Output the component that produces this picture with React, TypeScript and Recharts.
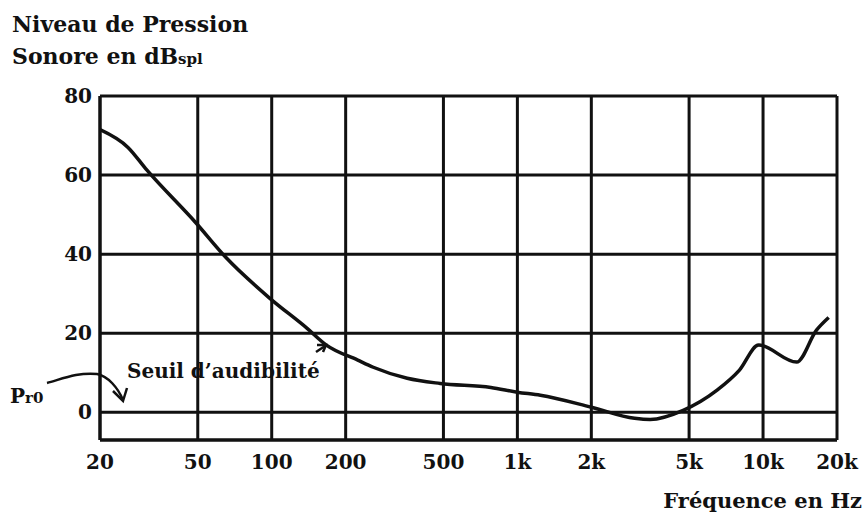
import { CartesianGrid, Line, LineChart, XAxis, YAxis } from 'recharts';

// Frequency (Hz) and hearing threshold (dB SPL)
const FREQS = [20, 26, 31, 49, 65, 98, 139, 167, 224, 259, 356, 485, 780, 1000, 1240, 2000, 3000, 3470, 4730, 6500, 8000, 9600, 13700, 16500, 18500];
const THRESHOLD_DB = [71.5, 67, 61.3, 48, 39.2, 28.9, 21.3, 17, 13.2, 11.4, 8.6, 7.3, 6.3, 5.1, 4.3, 1.3, -1.5, -1.8, 0.5, 5.6, 10.6, 17, 12.7, 20.8, 24];

const X_TICKS = [20, 50, 100, 200, 500, 1000, 2000, 5000, 10000, 20000];
const X_TICK_LABELS = ['20', '50', '100', '200', '500', '1k', '2k', '5k', '10k', '20k'];
const Y_TICKS = [0, 20, 40, 60, 80];

const FONT = '"DejaVu Serif", serif';
const INK = '#111';

const data = FREQS.map((freq, i) => ({ freq, db: THRESHOLD_DB[i] }));

export default function App() {
  const tickStyle = { fill: INK, fontSize: 20, fontWeight: 700, fontFamily: FONT };

  return (
    <div style={{ position: 'absolute', left: 0, top: 0, width: 867, height: 513, background: '#fff' }}>
      <LineChart width={867} height={513} data={data} margin={{ top: 96, right: 30, bottom: 43, left: 0 }}>
        <CartesianGrid stroke={INK} strokeWidth={3} />
        <XAxis
          dataKey="freq"
          type="number"
          scale="log"
          domain={[20, 20000]}
          ticks={X_TICKS}
          tickFormatter={(v) => X_TICK_LABELS[X_TICKS.indexOf(v)] ?? String(v)}
          axisLine={{ stroke: INK, strokeWidth: 3 }}
          tickLine={false}
          tickMargin={9}
          height={30}
          tick={tickStyle}
          interval={0}
          allowDataOverflow
        />
        <YAxis
          type="number"
          domain={[-7, 80]}
          ticks={Y_TICKS}
          width={100}
          axisLine={{ stroke: INK, strokeWidth: 3 }}
          tickLine={false}
          tick={tickStyle}
          allowDataOverflow
        />
        <Line
          dataKey="db"
          type="monotone"
          stroke={INK}
          strokeWidth={3.5}
          dot={false}
          activeDot={false}
          isAnimationActive={false}
        />
      </LineChart>

      <svg
        width={867}
        height={513}
        style={{ position: 'absolute', left: 0, top: 0, pointerEvents: 'none' }}
        fontFamily={FONT}
        fontWeight={700}
        fill={INK}
      >
        <text x={12} y={32} fontSize={22}>Niveau de Pression</text>
        <text x={12} y={64} fontSize={22}>
          Sonore en dB<tspan fontSize={15}>spl</tspan>
        </text>
        <text x={127} y={378} fontSize={20}>Seuil d’audibilité</text>
        <text x={10} y={403} fontSize={20}>
          P<tspan fontSize={15}>r0</tspan>
        </text>
        <text x={862} y={508} fontSize={21} textAnchor="end">Fréquence en Hz</text>

        {/* arrow from Pr0 down to the 0 dB line */}
        <path
          d="M 47 383 C 62 379, 78 372, 97 374 C 108 376, 118 388, 123 400"
          fill="none"
          stroke={INK}
          strokeWidth={2.5}
        />
        <path d="M 113 391 L 123 401 L 127 388" fill="none" stroke={INK} strokeWidth={2.5} />

        {/* small arrow from the label to the curve */}
        <path d="M 316 352 L 325 346" fill="none" stroke={INK} strokeWidth={2.5} />
        <path d="M 317 345 L 326 345 L 323 352" fill="none" stroke={INK} strokeWidth={2.5} />
      </svg>
    </div>
  );
}
